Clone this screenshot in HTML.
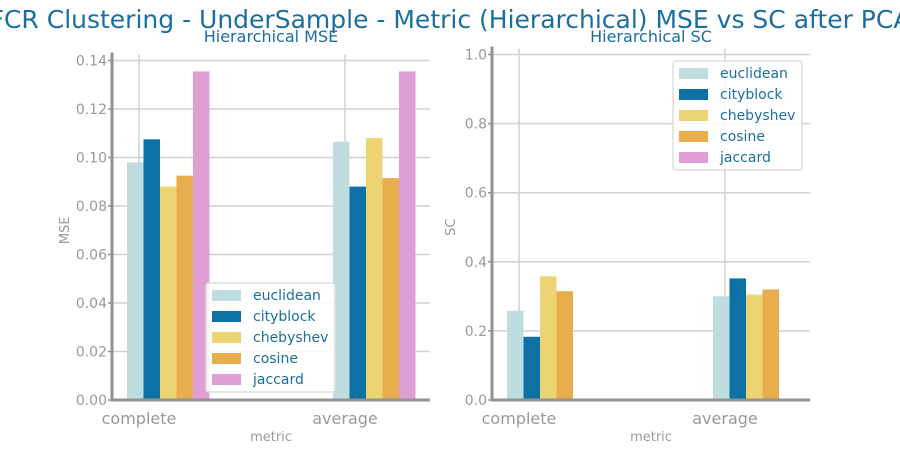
<!DOCTYPE html>
<html><head><meta charset="utf-8"><style>
body{margin:0;background:#fff;width:900px;height:450px;overflow:hidden}
svg{font-family:"DejaVu Sans","Liberation Sans",sans-serif}
</style></head><body>
<svg id="c" width="900" height="450" xmlns="http://www.w3.org/2000/svg">
<text x="450" y="28" text-anchor="middle" font-size="25" fill="#1a6fa0">FCR Clustering - UnderSample - Metric (Hierarchical) MSE vs SC after PCA</text>
</svg>
<script>
const categories=["complete","average"];
const series=["euclidean","cityblock","chebyshev","cosine","jaccard"];
const colors=["#bfdde0","#0e71a3","#ecd475","#e8ad4d","#e09fd4"];
const mseEuclidean=[0.098,0.1065];
const mseCityblock=[0.1075,0.088];
const mseChebyshev=[0.088,0.108];
const mseCosine=[0.0925,0.0915];
const mseJaccard=[0.1355,0.1355];
const scEuclidean=[0.258,0.300];
const scCityblock=[0.183,0.352];
const scChebyshev=[0.358,0.305];
const scCosine=[0.315,0.320];
const scJaccard=[null,null];
const mseTicks=["0.00","0.02","0.04","0.06","0.08","0.10","0.12","0.14"];
const scTicks=["0.0","0.2","0.4","0.6","0.8","1.0"];
const svg=document.getElementById('c');
const NS="http://www.w3.org/2000/svg";
function mk(t,a,p){const e=document.createElementNS(NS,t);for(const k in a)e.setAttribute(k,a[k]);(p||svg).appendChild(e);return e;}
function panel(o){
  const g=mk('g',{});
  
  
  const x0=o.x0,x1=o.x0+318,yb=400;
  const y=v=>yb-(v/o.max)*(yb-o.ytop);
  const cx=i=>x0+27+i*206;
  o.ticks.forEach(t=>{const v=parseFloat(t);const yy=y(v);
    mk('line',{x1:x0,x2:x1,y1:yy,y2:yy,stroke:'#d0d0d0','stroke-width':1.5},g);
    mk('line',{x1:x0-4,x2:x0,y1:yy,y2:yy,stroke:'#929295','stroke-width':1.5},g);
    const tl=mk('text',{x:x0-5,y:yy+5,'text-anchor':'end','font-size':14,fill:'#999'},g);tl.textContent=t;
    
    
  });
  categories.forEach((c,i)=>{
    mk('line',{x1:cx(i),x2:cx(i),y1:o.ytop-6,y2:yb,stroke:'#d0d0d0','stroke-width':1.5},g);
    const tl=mk('text',{x:cx(i),y:424,'text-anchor':'middle','font-size':16,fill:'#999'},g);tl.textContent=c;
    
    
  });
  const bw=16.5;
  o.data.forEach((arr,s)=>arr.forEach((v,i)=>{ if(v==null)return;
    const r=mk('rect',{x:cx(i)-12+s*bw,y:y(v),width:bw,height:yb-y(v),fill:colors[s]},g);
    
    
  }));
  mk('line',{x1:x0,x2:x0,y1:o.ytop-8,y2:yb+1.5,stroke:'#929295','stroke-width':3},g);
  mk('line',{x1:x0-1.5,x2:x1,y1:yb,y2:yb,stroke:'#929295','stroke-width':3},g);
  const t=mk('text',{x:x0+159,y:42,'text-anchor':'middle','font-size':16,fill:'#1a6fa0'},g);t.textContent=o.title;
  
  
  const xl=mk('text',{x:x0+159,y:441,'text-anchor':'middle','font-size':13,fill:'#999'},g);xl.textContent='metric';
  
  
  const yl=mk('text',{x:0,y:0,'text-anchor':'middle','font-size':13,fill:'#999',transform:`translate(${x0-o.ylOff},${(yb+o.ytop)/2}) rotate(-90)`},g);yl.textContent=o.ylabel;
  
  
  const L=mk('g',{},g);
  
  
  mk('rect',{x:o.lx,y:o.ly,width:129,height:109,rx:3,fill:'#fff','fill-opacity':0.85,stroke:'#ddd','stroke-width':1.5},L);
  series.forEach((s,k)=>{
    mk('rect',{x:o.lx+6,y:o.ly+7+k*21,width:29,height:11,fill:colors[k]},L);
    const lt=mk('text',{x:o.lx+47,y:o.ly+17+k*21,'font-size':14,fill:'#1a6fa0'},L);lt.textContent=s;
    
    
  });
}
panel({name:'mse-panel',x0:112,ytop:60.5,max:0.14,ticks:mseTicks,title:'Hierarchical MSE',ylabel:'MSE',ylOff:43,
  data:[mseEuclidean,mseCityblock,mseChebyshev,mseCosine,mseJaccard],lx:206,ly:283});
panel({name:'sc-panel',x0:492,ytop:54.5,max:1.0,ticks:scTicks,title:'Hierarchical SC',ylabel:'SC',ylOff:37,
  data:[scEuclidean,scCityblock,scChebyshev,scCosine,scJaccard],lx:673,ly:61});
</script>
</body></html>
